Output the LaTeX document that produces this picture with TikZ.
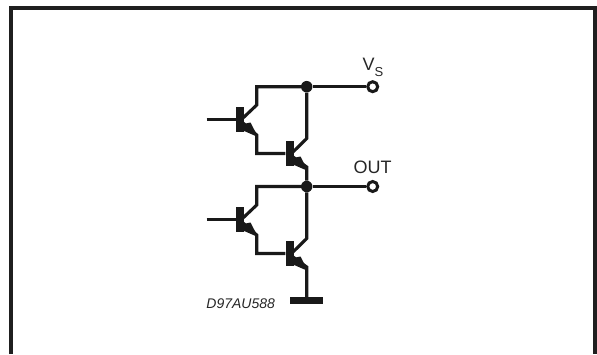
\documentclass[tikz,border=0pt]{standalone}
\usepackage{fontspec}
\setmainfont{Liberation Sans}
\tikzset{
  wire/.style={line width=3.1pt,color=black!90,line cap=butt,line join=miter},
  frameline/.style={line width=4pt,color=black!88},
  barbox/.style={fill=black!90,draw=none,inner sep=0pt,minimum width=8pt,minimum height=25.5pt},
  dot/.style={circle,fill=black!90,draw=none,inner sep=0pt,minimum size=11.5pt},
  term/.style={circle,fill=white,draw=black!90,line width=3pt,inner sep=0pt,minimum size=10pt},
  gnd/.style={fill=black!90,draw=none,inner sep=0pt,minimum width=33pt,minimum height=7pt},
  lbl/.style={inner sep=0pt,text=black!85},
  arrowtip/.style={fill=black!90,draw=none}
}
\begin{document}
\begin{tikzpicture}[x=1pt,y=-1pt]
\useasboundingbox (0,0) rectangle (597,354);
\draw[frameline] (11,354) -- (11,8) -- (595,8) -- (595,354);
% nodes
\node[dot] (j1) at (306.7,86.7) {};
\node[dot] (j2) at (306.7,186.5) {};
\node[term] (vs) at (372.7,86.7) {};
\node[term] (out) at (372.7,186.5) {};
\node[barbox] (b1) at (239.7,119.5) {};
\node[barbox] (b2) at (289.5,153.5) {};
\node[barbox] (b3) at (239.7,219.5) {};
\node[barbox] (b4) at (289.5,253.5) {};
\node[gnd] (g) at (306.7,300.5) {};
\coordinate (i1) at (206.5,119.5);
\coordinate (i2) at (206.5,219.5);
% rails
\draw[wire] (j1) -- (vs);
\draw[wire] (j2) -- (out);
% T1
\draw[wire] (i1) -- (b1);
\draw[wire] (243,118) -- (256.7,105) -- (256.7,86.7) -- (j1);
\draw[wire] (243,123) -- (256.7,135) -- (256.7,153.5) -- (b2);
\fill[arrowtip] (258,137) -- (243,130.5) -- (243,124) -- (250.5,122.5) -- cycle;
% T2
\draw[wire] (293,152) -- (306.7,138.5) -- (j1);
\draw[wire] (293,157) -- (306.7,167) -- (j2);
\fill[arrowtip] (308,171) -- (293,164.5) -- (293,158) -- (300.5,156.5) -- cycle;
% T3
\draw[wire] (i2) -- (b3);
\draw[wire] (243,218) -- (256.7,205) -- (256.7,186.5) -- (j2);
\draw[wire] (243,223) -- (256.7,235) -- (256.7,253.5) -- (b4);
\fill[arrowtip] (258,237) -- (243,230.5) -- (243,224) -- (250.5,222.5) -- cycle;
% T4
\draw[wire] (293,252) -- (306.7,238.5) -- (j2);
\draw[wire] (293,257) -- (306.7,267) -- (g);
\fill[arrowtip] (308,271) -- (293,264.5) -- (293,258) -- (300.5,256.5) -- cycle;
% labels
\node[lbl,anchor=base west,font=\fontsize{18}{20}\selectfont] (vl) at (362.5,70) {V};
\node[lbl,anchor=base west,font=\fontsize{13}{15}\selectfont] (sl) at (374.5,76) {S};
\node[lbl,anchor=base,font=\fontsize{18}{20}\selectfont] (ol) at (372.5,173) {OUT};
\node[lbl,anchor=base,font=\fontsize{14}{16}\selectfont\itshape] (dl) at (240.7,308) {D97AU588};
\end{tikzpicture}
\end{document}
